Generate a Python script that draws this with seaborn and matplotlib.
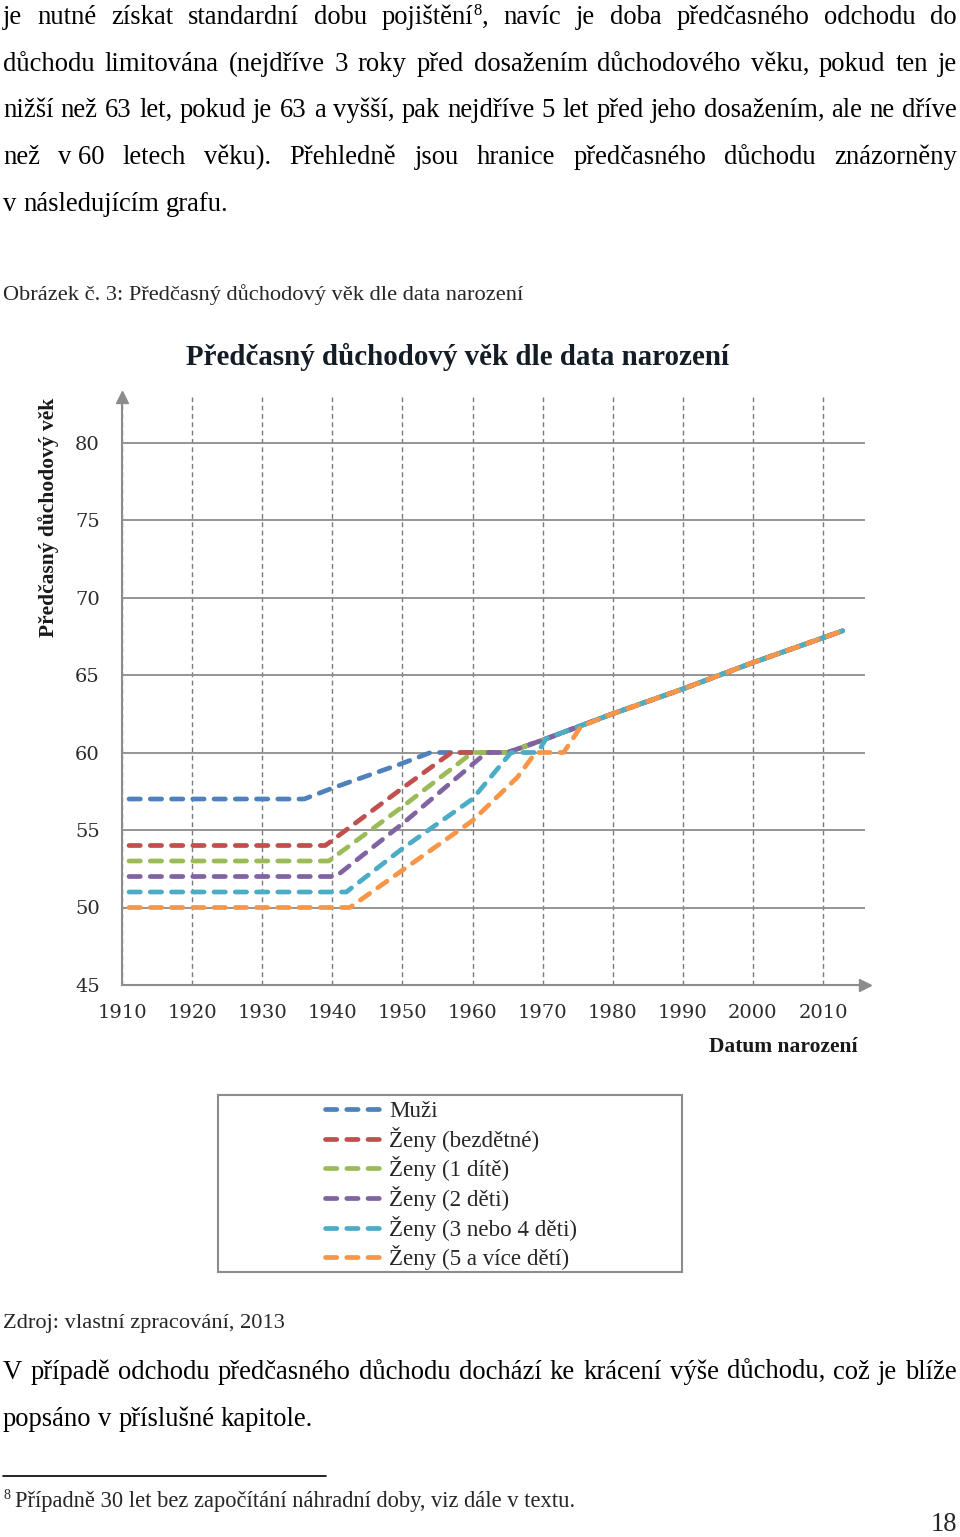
import matplotlib
matplotlib.use("Agg")
import matplotlib.pyplot as plt
import numpy as np
import pandas as pd
import seaborn as sns
from matplotlib.patches import Rectangle

# ---------------- data ----------------
nazvy_serii = ["Muži", "Ženy (bezdětné)", "Ženy (1 dítě)", "Ženy (2 děti)",
               "Ženy (3 nebo 4 děti)", "Ženy (5 a více dětí)"]
barvy = ["#4F81BD", "#C0504D", "#9BBB59", "#8064A2", "#4BACC6", "#F79646"]

# individual part of each series (year of birth, early retirement age)
roky_muzi = [1911, 1936, 1940, 1950, 1954, 1965, 1970]
vek_muzi = [57, 57, 57.7, 59.3, 60, 60, 60.8]
roky_bezdetne = [1911, 1939, 1950, 1957, 1965, 1970]
vek_bezdetne = [54, 54, 57.7, 60, 60, 60.8]
roky_1_dite = [1911, 1939.5, 1950, 1960, 1965, 1970]
vek_1_dite = [53, 53, 56.5, 60, 60, 60.8]
roky_2_deti = [1911, 1940.5, 1950, 1962, 1965, 1970]
vek_2_deti = [52, 52, 55.4, 60, 60, 60.8]
roky_3_4_deti = [1911, 1942, 1950, 1960, 1965.5, 1969.3, 1970.5]
vek_3_4_deti = [51, 51, 53.8, 57, 60, 60, 60.9]
roky_5_deti = [1911, 1942.5, 1950, 1960, 1966.4, 1969, 1973, 1975.5]
vek_5_deti = [50, 50, 52.4, 55.6, 58.4, 60, 60, 61.7]
# common part shared by all series
roky_spolecne = [1980, 1990, 2000, 2010, 2012.8]
vek_spolecny = [62.5, 64.1, 65.8, 67.4, 67.85]

y_ticks = [45, 50, 55, 60, 65, 70, 75, 80]
x_ticks = [1910, 1920, 1930, 1940, 1950, 1960, 1970, 1980, 1990, 2000, 2010]

heads = [(roky_muzi, vek_muzi), (roky_bezdetne, vek_bezdetne),
         (roky_1_dite, vek_1_dite), (roky_2_deti, vek_2_deti),
         (roky_3_4_deti, vek_3_4_deti), (roky_5_deti, vek_5_deti)]

frames = []
for name, (rx, vy) in zip(nazvy_serii, heads):
    frames.append(pd.DataFrame({"rok": list(rx) + roky_spolecne,
                                "vek": list(vy) + vek_spolecny,
                                "serie": name}))
df = pd.concat(frames, ignore_index=True)

# ---------------- page ----------------
W, H = 960, 1537
sns.set_style("white")
fig = plt.figure(figsize=(W / 100, H / 100), dpi=100)
fig.patch.set_facecolor("white")
R = fig.canvas.get_renderer()
SERIF = "Liberation Serif"


def fx(x):
    return x / W


def fy(y):
    return 1 - y / H


def measure(s, size, family=SERIF, weight="normal"):
    t = fig.text(0, 0, s, fontsize=size, family=family, weight=weight)
    w = t.get_window_extent(R).width
    t.remove()
    return w


def fit(s, width, family=SERIF, weight="normal"):
    return 20 * width / measure(s, 20, family, weight)


def space_w(size, family=SERIF):
    return measure("a a", size, family) - measure("aa", size, family)


def draw_line(tokens, x0, y, size, x1=None, family=SERIF, color="#000000"):
    toks = [t if isinstance(t, list) else [(t, 1.0, 0)] for t in tokens]
    widths = [sum(measure(s, size * sc, family) for s, sc, r in tok) for tok in toks]
    if x1 is None or len(toks) < 2:
        gap = space_w(size, family)
    else:
        gap = (x1 - x0 - sum(widths)) / (len(toks) - 1)
    x = x0
    for tok, w in zip(toks, widths):
        xx = x
        for s, sc, rise in tok:
            fig.text(fx(xx), fy(y - rise), s, fontsize=size * sc, family=family,
                     color=color, va="baseline", ha="left")
            xx += measure(s, size * sc, family)
        x += w + gap


L1 = ["je", "nutné", "získat", "standardní", "dobu",
      [("pojištění", 1.0, 0), ("8", 0.62, 9), (",", 1.0, 0)],
      "navíc", "je", "doba", "předčasného", "odchodu", "do"]
L2 = "důchodu limitována (nejdříve 3 roky před dosažením důchodového věku, pokud ten je".split()
L3 = "nižší než 63 let, pokud je 63 a vyšší, pak nejdříve 5 let před jeho dosažením, ale ne dříve".split()
L4 = ["než", "v 60", "letech", "věku).", "Přehledně", "jsou", "hranice",
      "předčasného", "důchodu", "znázorněny"]
L5 = "v následujícím grafu.".split()
B1 = "V případě odchodu předčasného důchodu dochází ke krácení výše důchodu, což je blíže".split()
B2 = "popsáno v příslušné kapitole.".split()

body = fit(" ".join(L3), 946)
draw_line(L1, 3, 24, body, 957)
draw_line(L2, 3, 71, body, 957)
draw_line(L3, 3, 117, body, 957)
draw_line(L4, 3, 164, body, 957)
draw_line(L5, 3, 211, body)
draw_line(B1, 3, 1379, body, 957)
draw_line(B2, 3, 1426, body)

cap = "Obrázek č. 3: Předčasný důchodový věk dle data narození"
fig.text(fx(3), fy(300), cap, fontsize=fit(cap, 518), family=SERIF, va="baseline")
src = "Zdroj: vlastní zpracování, 2013"
fig.text(fx(3), fy(1328), src, fontsize=fit(src, 280), family=SERIF, va="baseline")

fig.add_artist(plt.Line2D([fx(3), fx(326)], [fy(1476), fy(1476)],
                          transform=fig.transFigure, color="black", lw=1.2))
fn = "Případně 30 let bez započítání náhradní doby, viz dále v textu."
fns = fit(fn, 560)
fig.text(fx(3), fy(1499), "8", fontsize=fns * 0.62, family=SERIF, va="baseline")
fig.text(fx(15), fy(1507), fn, fontsize=fns, family=SERIF, va="baseline")
fig.text(fx(957), fy(1531), "18", fontsize=body, family=SERIF, va="baseline", ha="right")

# ---------------- chart ----------------
ax = fig.add_axes([fx(122), fy(985), (865 - 122) / W, (985 - 397) / H])
ax.set_facecolor("white")
sns.lineplot(data=df, x="rok", y="vek", hue="serie", hue_order=nazvy_serii,
             palette=dict(zip(nazvy_serii, barvy)), estimator=None, sort=False,
             lw=3.4, linestyle=(0, (2.4, 2.1)), dash_capstyle="round",
             ax=ax, legend=False, zorder=3)

ax.set_xlim(1910, 1910 + 743 / 7.01)
ax.set_ylim(45, 45 + 588 / 15.5)
ax.set_xticks(x_ticks)
ax.set_yticks(y_ticks)
ax.set_xticklabels([str(v) for v in x_ticks])
ax.set_yticklabels([str(v) for v in y_ticks])
ax.yaxis.grid(True, color="#8c8c8c", lw=1.3, ls="-")
ax.xaxis.grid(True, color="#7a7a7a", lw=1.0, ls=(0, (3.5, 2.5)))
ax.set_axisbelow(True)
for s in ["top", "right"]:
    ax.spines[s].set_visible(False)
for s in ["left", "bottom"]:
    ax.spines[s].set_color("#8c8c8c")
    ax.spines[s].set_linewidth(1.5)
ax.tick_params(length=0, labelsize=14, colors="#2b2b2b")
ax.tick_params(axis="y", pad=16)
ax.tick_params(axis="x", pad=14)
for lab in ax.get_xticklabels() + ax.get_yticklabels():
    lab.set_family("DejaVu Serif")
ax.set_xlabel("")
ax.set_ylabel("")
ax.plot(0, 1, "^", transform=ax.transAxes, clip_on=False, ms=9, color="#8c8c8c", zorder=5)
ax.plot(1, 0, ">", transform=ax.transAxes, clip_on=False, ms=9, color="#8c8c8c", zorder=5)

title = "Předčasný důchodový věk dle data narození"
fig.text(fx(457), fy(357), title, fontsize=fit(title, 543, weight="bold"),
         weight="bold", family=SERIF, color="#141c26", ha="center", va="center")
ylab = "Předčasný důchodový věk"
fig.text(fx(49), fy(517), ylab, fontsize=fit(ylab, 239, weight="bold"), weight="bold",
         family=SERIF, color="#1a1a1a", rotation=90, ha="center", va="center")
xlab = "Datum narození"
fig.text(fx(783), fy(1047), xlab, fontsize=fit(xlab, 148, weight="bold"), weight="bold",
         family=SERIF, color="#1a1a1a", ha="center", va="center")

# legend
fig.add_artist(Rectangle((fx(218), fy(1272)), (682 - 218) / W, (1272 - 1095) / H,
                         transform=fig.transFigure, fill=False, ec="#8c8c8c", lw=1.5))
lsize = fit("Ženy (3 nebo 4 děti)", 188)
lpx = lsize * 100 / 72
handles = ax.get_lines()[:len(nazvy_serii)]
fig.legend(handles, nazvy_serii, loc="upper left",
           bbox_to_anchor=(fx(325), fy(1101)), frameon=False,
           prop={"family": SERIF, "size": lsize},
           handlelength=55 / lpx, handletextpad=9 / lpx,
           labelspacing=(31.6 - 1.17 * lpx) / lpx, borderpad=0, borderaxespad=0)

fig.savefig("out.png", dpi=100, facecolor="white")
